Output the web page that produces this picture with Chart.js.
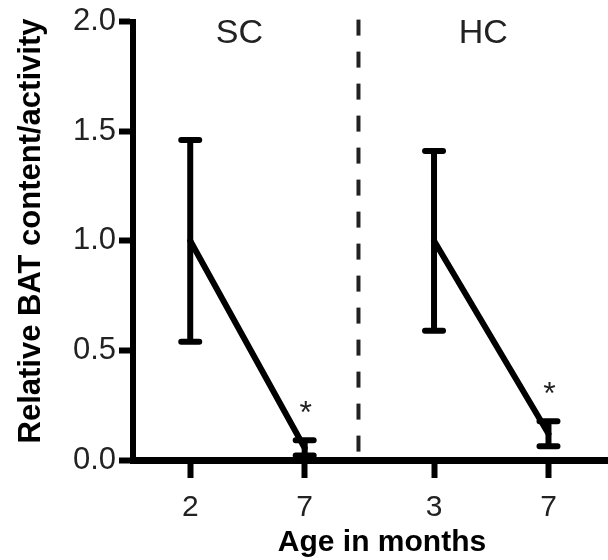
<!DOCTYPE html>
<html>
<head>
<meta charset="utf-8">
<script src="https://cdn.jsdelivr.net/npm/chart.js@4/dist/chart.umd.min.js"></script>
<style>
  html, body { margin: 0; padding: 0; background: #fff; }
  #wrap { width: 608px; height: 560px; position: relative; }
</style>
</head>
<body>
<div id="wrap"><canvas id="c" width="608" height="560"></canvas></div>
<script>
// ---- data ----
const groups = ['SC', 'HC'];
const ageLabels = ['2', '7', '3', '7'];          // tick labels (age in months)
const xPositions = [1, 2, 3.13, 4.13];           // category slots on the x axis
const scMeans = [1.0, 0.055];
const scErrors = [0.46, 0.035];
const hcMeans = [1.0, 0.12];
const hcErrors = [0.41, 0.057];
const significant = [false, true, false, true];   // asterisk markers
const separatorX = 2.47;                          // dashed separator between groups
const groupLabelX = [1.43, 3.56];                 // where group names sit on the x axis
const yTicks = [0, 0.5, 1.0, 1.5, 2.0];

const FONT = "'Liberation Sans', Arial, Helvetica, sans-serif";

const scData = scMeans.map((m, i) => ({ x: xPositions[i], y: m, err: scErrors[i], sig: significant[i] }));
const hcData = hcMeans.map((m, i) => ({ x: xPositions[i + 2], y: m, err: hcErrors[i], sig: significant[i + 2] }));

const extras = {
  id: 'extras',
  afterDatasetsDraw(chart) {
    const { ctx, scales: { x, y } } = chart;
    ctx.save();
    // dashed separator
    ctx.strokeStyle = '#222';
    ctx.lineWidth = 4;
    ctx.setLineDash([16, 16]);
    const sx = x.getPixelForValue(separatorX);
    ctx.beginPath();
    ctx.moveTo(sx, y.getPixelForValue(2.0) - 2);
    ctx.lineTo(sx, y.getPixelForValue(0));
    ctx.stroke();
    ctx.setLineDash([]);

    // error bars
    ctx.strokeStyle = '#000';
    chart.data.datasets.forEach(ds => {
      ds.data.forEach(p => {
        const px = x.getPixelForValue(p.x);
        const top = y.getPixelForValue(p.y + p.err);
        const bot = y.getPixelForValue(p.y - p.err);
        ctx.lineWidth = 6;
        ctx.lineCap = 'butt';
        ctx.beginPath();
        ctx.moveTo(px, top);
        ctx.lineTo(px, bot);
        ctx.stroke();
        ctx.lineCap = 'round';
        ctx.beginPath();
        ctx.moveTo(px - 9, top); ctx.lineTo(px + 9, top);
        ctx.moveTo(px - 9, bot); ctx.lineTo(px + 9, bot);
        ctx.stroke();
        if (p.sig) {
          ctx.fillStyle = '#222';
          ctx.font = '32px ' + FONT;
          ctx.textAlign = 'center';
          ctx.textBaseline = 'middle';
          ctx.fillText('*', px + 1, top - 26);
        }
      });
    });

    // group labels
    ctx.fillStyle = '#222';
    ctx.font = '34px ' + FONT;
    ctx.textAlign = 'center';
    ctx.textBaseline = 'middle';
    groups.forEach((g, i) => ctx.fillText(g, x.getPixelForValue(groupLabelX[i]), 34));

    // axis titles
    ctx.fillStyle = '#000';
    ctx.font = 'bold 30px ' + FONT;
    ctx.fillText('Age in months', 382, 543);
    ctx.translate(31, 231);
    ctx.rotate(-Math.PI / 2);
    ctx.font = 'bold 31px ' + FONT;
    ctx.fillText('Relative BAT content/activity', 0, 0);
    ctx.restore();
  }
};

new Chart(document.getElementById('c'), {
  type: 'line',
  data: {
    datasets: [
      { label: groups[0], data: scData, borderColor: '#000', borderWidth: 6, pointRadius: 0, tension: 0, borderCapStyle: 'round' },
      { label: groups[1], data: hcData, borderColor: '#000', borderWidth: 6, pointRadius: 0, tension: 0, borderCapStyle: 'round' }
    ]
  },
  options: {
    responsive: false,
    animation: false,
    layout: { padding: { top: 20, right: 0, left: 0, bottom: 0 } },
    plugins: { legend: { display: false }, tooltip: { enabled: false } },
    scales: {
      x: {
        type: 'linear',
        min: 0.5,
        max: 4.65,
        afterBuildTicks: s => { s.ticks = xPositions.map(v => ({ value: v })); },
        afterFit: s => { s.height = 100; },
        ticks: {
          autoSkip: false,
          maxRotation: 0,
          padding: 12,
          color: '#222',
          font: { family: FONT, size: 30 },
          callback: (v, i) => ageLabels[i]
        },
        grid: { drawOnChartArea: false, tickLength: 18, tickWidth: 6, color: '#000' },
        border: { color: '#000', width: 7 }
      },
      y: {
        min: 0,
        max: 2,
        afterBuildTicks: s => { s.ticks = yTicks.map(v => ({ value: v })); },
        afterFit: s => { s.width = 133; },
        ticks: {
          padding: 3,
          color: '#222',
          font: { family: FONT, size: 31 },
          callback: v => Number(v).toFixed(1)
        },
        grid: { drawOnChartArea: false, tickLength: 14, tickWidth: 6, color: '#000' },
        border: { color: '#000', width: 6 }
      }
    }
  },
  plugins: [extras]
});
</script>
</body>
</html>
